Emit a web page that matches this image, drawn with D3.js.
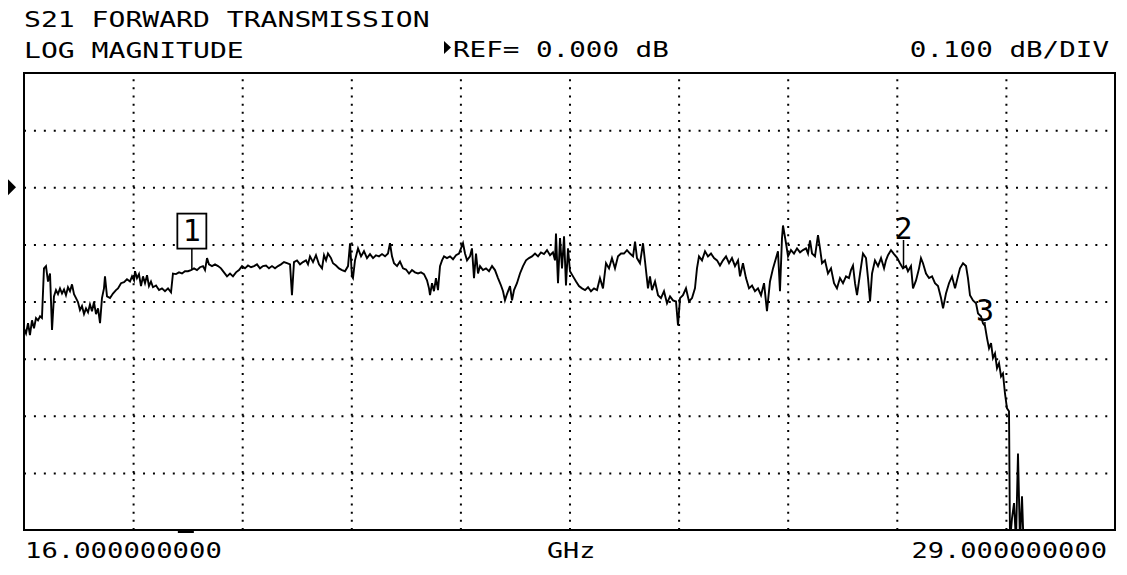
<html>
<head>
<script src="https://cdn.jsdelivr.net/npm/d3@7/dist/d3.min.js"></script>
<style>
	body { margin: 0; background: #fff; }
	text { font-family: "DejaVu Sans Mono", monospace; fill: #000; }
</style>
</head>
<body>
<div id="chart"></div>
<script>
	// S21 trace, [frequency GHz, magnitude dB]
	var trace = [
		[16.000,-0.247],[16.024,-0.256],[16.048,-0.238],[16.071,-0.259],[16.095,-0.233],[16.119,-0.247],
		[16.143,-0.229],[16.167,-0.233],[16.191,-0.226],[16.214,-0.229],[16.238,-0.142],[16.262,-0.138],
		[16.286,-0.165],[16.310,-0.151],[16.334,-0.250],[16.357,-0.191],[16.381,-0.180],[16.405,-0.187],
		[16.429,-0.177],[16.453,-0.186],[16.477,-0.179],[16.500,-0.189],[16.524,-0.175],[16.548,-0.182],
		[16.572,-0.170],[16.596,-0.187],[16.620,-0.194],[16.643,-0.201],[16.667,-0.215],[16.691,-0.208],
		[16.715,-0.222],[16.739,-0.212],[16.763,-0.219],[16.786,-0.205],[16.810,-0.217],[16.834,-0.201],
		[16.858,-0.222],[16.882,-0.212],[16.906,-0.238],[16.929,-0.194],[16.953,-0.177],[16.965,-0.156],
		[16.989,-0.191],[17.025,-0.194],[17.060,-0.186],[17.096,-0.180],[17.120,-0.177],[17.156,-0.168],
		[17.192,-0.166],[17.227,-0.161],[17.263,-0.165],[17.287,-0.156],[17.311,-0.163],[17.323,-0.147],
		[17.346,-0.159],[17.370,-0.152],[17.394,-0.173],[17.418,-0.156],[17.442,-0.168],[17.466,-0.154],
		[17.489,-0.173],[17.513,-0.165],[17.537,-0.175],[17.573,-0.172],[17.609,-0.180],[17.644,-0.177],
		[17.680,-0.182],[17.716,-0.177],[17.752,-0.184],[17.775,-0.151],[17.811,-0.152],[17.847,-0.149],
		[17.883,-0.151],[17.918,-0.147],[17.954,-0.147],[17.990,-0.145],[18.026,-0.142],[18.061,-0.145],
		[18.097,-0.140],[18.133,-0.138],[18.157,-0.145],[18.181,-0.124],[18.204,-0.135],[18.240,-0.138],
		[18.276,-0.135],[18.312,-0.138],[18.347,-0.142],[18.383,-0.149],[18.419,-0.156],[18.455,-0.151],
		[18.490,-0.156],[18.526,-0.149],[18.562,-0.145],[18.598,-0.138],[18.633,-0.142],[18.669,-0.137],
		[18.705,-0.140],[18.741,-0.138],[18.776,-0.135],[18.812,-0.142],[18.848,-0.138],[18.884,-0.137],
		[18.919,-0.142],[18.955,-0.138],[18.991,-0.142],[19.027,-0.138],[19.062,-0.135],[19.098,-0.131],
		[19.134,-0.133],[19.170,-0.135],[19.193,-0.189],[19.217,-0.131],[19.253,-0.128],[19.289,-0.135],
		[19.324,-0.131],[19.360,-0.128],[19.384,-0.135],[19.408,-0.121],[19.444,-0.131],[19.479,-0.119],
		[19.515,-0.135],[19.551,-0.142],[19.575,-0.119],[19.599,-0.128],[19.622,-0.116],[19.658,-0.124],
		[19.682,-0.133],[19.718,-0.137],[19.753,-0.142],[19.789,-0.145],[19.825,-0.147],[19.861,-0.138],
		[19.885,-0.098],[19.908,-0.156],[19.920,-0.159],[19.944,-0.128],[19.980,-0.107],[20.016,-0.121],
		[20.051,-0.112],[20.087,-0.124],[20.123,-0.117],[20.159,-0.124],[20.194,-0.119],[20.230,-0.121],
		[20.266,-0.117],[20.302,-0.121],[20.337,-0.116],[20.361,-0.098],[20.385,-0.121],[20.409,-0.133],
		[20.445,-0.138],[20.480,-0.130],[20.516,-0.142],[20.552,-0.144],[20.588,-0.151],[20.623,-0.145],
		[20.659,-0.149],[20.695,-0.151],[20.731,-0.149],[20.766,-0.152],[20.802,-0.163],[20.826,-0.177],
		[20.838,-0.189],[20.862,-0.168],[20.885,-0.182],[20.909,-0.159],[20.933,-0.180],[20.957,-0.138],
		[20.981,-0.128],[21.005,-0.121],[21.040,-0.124],[21.076,-0.121],[21.112,-0.126],[21.148,-0.119],
		[21.183,-0.116],[21.207,-0.107],[21.231,-0.098],[21.255,-0.116],[21.279,-0.128],[21.314,-0.121],
		[21.338,-0.107],[21.362,-0.159],[21.386,-0.116],[21.410,-0.151],[21.434,-0.138],[21.469,-0.145],
		[21.505,-0.142],[21.541,-0.147],[21.577,-0.138],[21.612,-0.145],[21.648,-0.159],[21.684,-0.172],
		[21.708,-0.182],[21.731,-0.198],[21.755,-0.187],[21.791,-0.173],[21.815,-0.198],[21.839,-0.180],
		[21.874,-0.168],[21.910,-0.151],[21.946,-0.138],[21.982,-0.128],[22.017,-0.124],[22.053,-0.121],
		[22.089,-0.116],[22.125,-0.121],[22.160,-0.114],[22.196,-0.117],[22.232,-0.110],[22.268,-0.119],
		[22.303,-0.114],[22.327,-0.128],[22.339,-0.081],[22.363,-0.168],[22.387,-0.089],[22.411,-0.142],
		[22.435,-0.086],[22.458,-0.172],[22.482,-0.107],[22.506,-0.147],[22.542,-0.156],[22.578,-0.165],
		[22.613,-0.173],[22.649,-0.177],[22.685,-0.180],[22.721,-0.175],[22.756,-0.182],[22.792,-0.177],
		[22.828,-0.180],[22.863,-0.159],[22.899,-0.177],[22.935,-0.133],[22.971,-0.142],[23.006,-0.124],
		[23.042,-0.142],[23.078,-0.121],[23.114,-0.116],[23.149,-0.116],[23.185,-0.110],[23.221,-0.116],
		[23.257,-0.121],[23.281,-0.095],[23.304,-0.124],[23.340,-0.133],[23.376,-0.098],[23.400,-0.130],
		[23.435,-0.177],[23.459,-0.156],[23.483,-0.180],[23.519,-0.165],[23.555,-0.189],[23.590,-0.194],
		[23.626,-0.182],[23.662,-0.203],[23.698,-0.191],[23.733,-0.198],[23.769,-0.200],[23.793,-0.242],
		[23.817,-0.194],[23.852,-0.189],[23.888,-0.177],[23.924,-0.200],[23.960,-0.194],[23.995,-0.177],
		[24.019,-0.142],[24.043,-0.121],[24.079,-0.128],[24.115,-0.112],[24.150,-0.121],[24.186,-0.116],
		[24.222,-0.124],[24.258,-0.128],[24.293,-0.137],[24.329,-0.128],[24.365,-0.121],[24.401,-0.133],
		[24.436,-0.124],[24.472,-0.138],[24.508,-0.128],[24.532,-0.156],[24.567,-0.133],[24.603,-0.159],
		[24.639,-0.177],[24.675,-0.172],[24.710,-0.182],[24.746,-0.177],[24.782,-0.189],[24.818,-0.168],
		[24.853,-0.217],[24.889,-0.165],[24.925,-0.142],[24.961,-0.124],[24.984,-0.112],[25.008,-0.182],
		[25.032,-0.089],[25.044,-0.067],[25.080,-0.098],[25.104,-0.121],[25.139,-0.110],[25.175,-0.116],
		[25.211,-0.107],[25.247,-0.114],[25.282,-0.110],[25.318,-0.107],[25.342,-0.116],[25.366,-0.093],
		[25.390,-0.116],[25.425,-0.121],[25.461,-0.084],[25.485,-0.107],[25.509,-0.133],[25.544,-0.128],
		[25.580,-0.151],[25.616,-0.142],[25.652,-0.168],[25.687,-0.177],[25.723,-0.159],[25.759,-0.168],
		[25.795,-0.156],[25.830,-0.159],[25.854,-0.145],[25.878,-0.137],[25.902,-0.168],[25.926,-0.189],
		[25.962,-0.151],[25.997,-0.116],[26.033,-0.124],[26.057,-0.159],[26.081,-0.200],[26.105,-0.151],
		[26.140,-0.128],[26.176,-0.138],[26.212,-0.124],[26.248,-0.142],[26.271,-0.128],[26.295,-0.119],
		[26.331,-0.110],[26.367,-0.117],[26.402,-0.123],[26.438,-0.133],[26.474,-0.142],[26.510,-0.138],
		[26.533,-0.147],[26.569,-0.138],[26.593,-0.177],[26.629,-0.163],[26.665,-0.142],[26.688,-0.124],
		[26.712,-0.133],[26.748,-0.151],[26.784,-0.159],[26.820,-0.156],[26.855,-0.168],[26.891,-0.173],
		[26.927,-0.194],[26.951,-0.212],[26.986,-0.186],[27.022,-0.168],[27.058,-0.156],[27.094,-0.177],
		[27.117,-0.163],[27.153,-0.142],[27.189,-0.133],[27.225,-0.138],[27.248,-0.159],[27.272,-0.189],
		[27.308,-0.198],[27.344,-0.203],[27.368,-0.221],[27.403,-0.226],[27.427,-0.238],[27.451,-0.243],
		[27.475,-0.264],[27.499,-0.282],[27.523,-0.273],[27.546,-0.299],[27.570,-0.291],[27.594,-0.317],
		[27.618,-0.308],[27.642,-0.331],[27.665,-0.326],[27.689,-0.361],[27.713,-0.387],[27.737,-0.392],
		[27.749,-0.620],[27.773,-0.579],[27.797,-0.553],[27.820,-0.620],[27.844,-0.466],[27.868,-0.620],
		[27.892,-0.541],[27.916,-0.650],[28.500,-0.650],[29.000,-0.650]
	];

	var markers = [
		{ id: "1", ghz: 18.00, active: true },
		{ id: "2", ghz: 26.48, active: false },
		{ id: "3", ghz: 27.45, active: false }
	];

	var titleLines = ["S21 FORWARD TRANSMISSION", "LOG MAGNITUDE"];
	var refLabel = "REF= 0.000 dB";
	var scaleLabel = "0.100 dB/DIV";
	var startLabel = "16.000000000";
	var stopLabel = "29.000000000";
	var unitLabel = "GHz";

	var freqRange = [16, 29];
	var dbRange = [-0.6, 0.2];
	var refDb = 0;
	var xDivs = 10, yDivs = 8;

	var width = 1127, height = 575;
	var plot = { left: 24, right: 1115, top: 73, bottom: 530 };
	var pitch = 16.6;

	var svg = d3.select("#chart").append("svg")
		.attr("width", width)
		.attr("height", height);

	var x = d3.scaleLinear().domain(freqRange).range([plot.left, plot.right]);
	var y = d3.scaleLinear().domain(dbRange).range([plot.bottom, plot.top]);

	var xStep = (freqRange[1] - freqRange[0]) / xDivs;
	var yStep = (dbRange[1] - dbRange[0]) / yDivs;
	var xGridVals = d3.range(1, xDivs).map(function(i) { return freqRange[0] + i * xStep; });
	var yGridVals = d3.range(1, yDivs).map(function(i) { return dbRange[0] + i * yStep; });

	// dotted graticule
	var xGrid = svg.append("g")
		.attr("transform", "translate(0," + plot.bottom + ")")
		.call(d3.axisBottom(x).tickValues(xGridVals).tickSize(-(plot.bottom - plot.top)).tickFormat(""));
	xGrid.select(".domain").remove();
	xGrid.selectAll("line")
		.attr("stroke", "#000")
		.attr("stroke-width", 2)
		.attr("stroke-dasharray", "2,6.16");

	var yGrid = svg.append("g")
		.attr("transform", "translate(" + plot.left + ",0)")
		.call(d3.axisLeft(y).tickValues(yGridVals).tickSize(-(plot.right - plot.left)).tickFormat(""));
	yGrid.select(".domain").remove();
	yGrid.selectAll("line")
		.attr("stroke", "#000")
		.attr("stroke-width", 2)
		.attr("stroke-dasharray", "2,7.92");

	svg.append("clipPath").attr("id", "plotClip")
		.append("rect")
		.attr("x", plot.left).attr("y", plot.top)
		.attr("width", plot.right - plot.left)
		.attr("height", plot.bottom - plot.top);

	var line = d3.line()
		.x(function(d) { return x(d[0]); })
		.y(function(d) { return y(d[1]); });

	svg.append("path")
		.datum(trace)
		.attr("clip-path", "url(#plotClip)")
		.attr("fill", "none")
		.attr("stroke", "#000")
		.attr("stroke-width", 1.9)
		.attr("stroke-linejoin", "miter")
		.attr("d", line);

	// frame
	svg.append("rect")
		.attr("x", plot.left).attr("y", plot.top)
		.attr("width", plot.right - plot.left)
		.attr("height", plot.bottom - plot.top)
		.attr("fill", "none")
		.attr("stroke", "#000")
		.attr("stroke-width", 2);

	// reference position arrow left of the graticule
	var yRef = y(refDb);
	svg.append("path")
		.attr("d", "M8," + (yRef - 8) + "L16," + yRef + "L8," + (yRef + 8) + "Z")
		.attr("fill", "#000");

	function label(str, xPos, yPos, size, step) {
		return svg.append("text")
			.attr("x", xPos)
			.attr("y", yPos)
			.attr("font-size", size)
			.attr("textLength", str.length * step)
			.attr("lengthAdjust", "spacingAndGlyphs")
			.text(str);
	}

	label(titleLines[0], 24, 27, 22, 16.9);
	label(titleLines[1], 24, 58, 22, 16.9);
	svg.append("path").attr("d", "M444,41L451,47.5L444,54Z").attr("fill", "#000");
	label(refLabel, 453, 57, 22, pitch);
	label(scaleLabel, 1109 - scaleLabel.length * pitch, 57, 22, pitch);
	label(startLabel, 25, 558, 22, 16.4);
	label(unitLabel, 547, 558, 22, 16.1);
	label(stopLabel, 1107 - stopLabel.length * 16.3, 558, 22, 16.3);

	// markers
	var bisect = d3.bisector(function(d) { return d[0]; }).left;
	function traceAt(f) {
		var i = bisect(trace, f);
		if (i <= 0) return trace[0][1];
		var a = trace[i - 1], b = trace[i];
		return a[1] + (b[1] - a[1]) * (f - a[0]) / (b[0] - a[0]);
	}
	var stemLen = { "1": 21, "2": 28, "3": 4 };

	markers.forEach(function(m) {
		var mx = x(m.ghz), my = y(traceAt(m.ghz));
		var top = my - stemLen[m.id];
		svg.append("line")
			.attr("x1", mx).attr("x2", mx)
			.attr("y1", my).attr("y2", top)
			.attr("stroke", "#000")
			.attr("stroke-width", 1.5);
		if (m.active) {
			svg.append("rect")
				.attr("x", mx - 14.5).attr("y", top - 35)
				.attr("width", 29).attr("height", 35)
				.attr("fill", "#fff")
				.attr("stroke", "#000")
				.attr("stroke-width", 1.8);
			svg.append("text")
				.attr("x", mx).attr("y", top - 8)
				.attr("text-anchor", "middle")
				.attr("font-size", 30)
				.text(m.id);
			svg.append("rect")
				.attr("x", mx - 14).attr("y", plot.bottom)
				.attr("width", 16).attr("height", 3)
				.attr("fill", "#000");
		} else {
			svg.append("text")
				.attr("x", mx).attr("y", top - 1)
				.attr("text-anchor", "middle")
				.attr("font-size", 30)
				.text(m.id);
		}
	});
</script>
</body>
</html>
